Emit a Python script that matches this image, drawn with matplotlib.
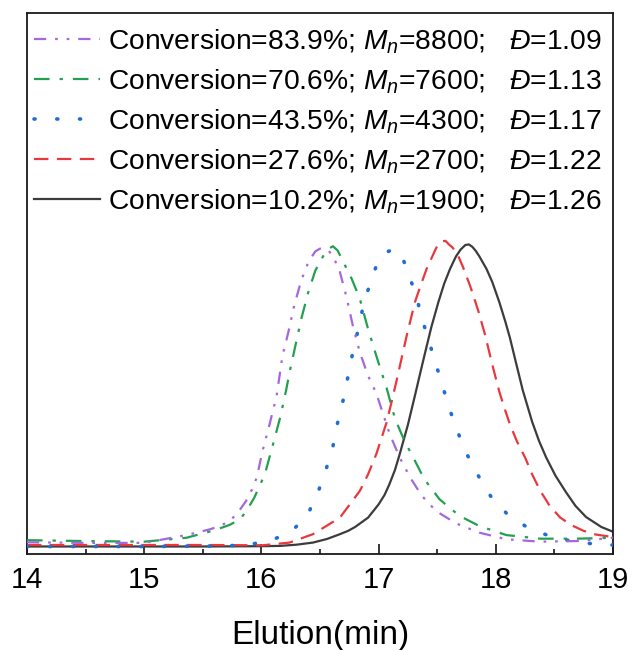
import numpy as np
import matplotlib.pyplot as plt
from matplotlib.ticker import MultipleLocator

plt.rcParams['font.family'] = ['Liberation Sans', 'DejaVu Sans']
plt.rcParams['mathtext.fontset'] = 'custom'
plt.rcParams['mathtext.rm'] = 'Liberation Sans'
plt.rcParams['mathtext.it'] = 'Liberation Sans:italic'

# Curvas GPC (tiempo de elución en min, intensidad normalizada)
x_839 = [14.0, 14.5, 15.0, 15.36, 15.56, 15.65, 15.73, 15.80, 15.87, 15.92, 15.96, 16.01,
         16.07, 16.13, 16.18, 16.23, 16.28, 16.34, 16.40, 16.46, 16.50, 16.53, 16.57, 16.61,
         16.67, 16.73, 16.78, 16.84, 16.91, 16.98, 17.095, 17.18, 17.27, 17.37, 17.49, 17.66,
         17.86, 18.09, 18.38, 18.69, 19.0]
y_839 = [0.039, 0.037, 0.037, 0.063, 0.082, 0.094, 0.11, 0.138, 0.177, 0.215, 0.254, 0.343,
         0.432, 0.527, 0.66, 0.738, 0.827, 0.91, 0.971, 1.007, 1.016, 1.018, 1.01, 0.993,
         0.938, 0.849, 0.76, 0.671, 0.593, 0.535, 0.399, 0.321, 0.254, 0.193, 0.143, 0.102,
         0.071, 0.049, 0.041, 0.043, 0.054]

x_706 = [14.0, 14.5, 15.0, 15.36, 15.6, 15.73, 15.82, 15.88, 15.94, 16.03, 16.1, 16.16,
         16.21, 16.24, 16.29, 16.34, 16.40, 16.46, 16.53, 16.57, 16.61, 16.65, 16.70, 16.77,
         16.84, 16.91, 16.98, 17.07, 17.14, 17.22, 17.31, 17.39, 17.52, 17.69, 17.86, 18.09,
         18.38, 18.69, 19.0]
y_706 = [0.046, 0.043, 0.041, 0.054, 0.079, 0.097, 0.116, 0.148, 0.188, 0.266, 0.366, 0.454,
         0.543, 0.604, 0.693, 0.782, 0.871, 0.943, 0.993, 1.015, 1.024, 1.01, 0.971, 0.916,
         0.849, 0.749, 0.66, 0.55, 0.45, 0.377, 0.31, 0.249, 0.182, 0.127, 0.093, 0.063,
         0.051, 0.051, 0.054]

x_435 = [14.0, 14.5, 15.0, 15.5, 15.86, 16.06, 16.24, 16.39, 16.48, 16.55, 16.61, 16.65,
         16.70, 16.74, 16.78, 16.83, 16.87, 16.93, 17.0, 17.07, 17.14, 17.20, 17.25, 17.32,
         17.37, 17.43, 17.49, 17.55, 17.61, 17.68, 17.76, 17.86, 17.96, 18.09, 18.27, 18.47,
         18.67, 18.87, 19.0]
y_435 = [0.025, 0.025, 0.025, 0.026, 0.029, 0.043, 0.069, 0.127, 0.202, 0.279, 0.357, 0.436,
         0.516, 0.593, 0.671, 0.754, 0.827, 0.904, 0.98, 1.005, 1.015, 0.99, 0.938, 0.86,
         0.784, 0.707, 0.631, 0.553, 0.477, 0.401, 0.327, 0.254, 0.19, 0.136, 0.088, 0.058,
         0.041, 0.032, 0.03]

x_276 = [14.0, 14.5, 15.0, 15.5, 16.01, 16.24, 16.44, 16.67, 16.84, 16.91, 16.98, 17.07,
         17.11, 17.15, 17.24, 17.31, 17.36, 17.41, 17.47, 17.50, 17.54, 17.57, 17.60, 17.63,
         17.67, 17.72, 17.78, 17.85, 17.91, 17.97, 18.03, 18.07, 18.12, 18.18, 18.25, 18.31,
         18.38, 18.46, 18.55, 18.65, 18.75, 18.85, 18.97, 19.0]
y_276 = [0.03, 0.03, 0.03, 0.03, 0.029, 0.038, 0.066, 0.121, 0.21, 0.265, 0.332, 0.44,
         0.505, 0.571, 0.727, 0.838, 0.895, 0.949, 1.0, 1.025, 1.04, 1.042, 1.03, 1.02,
         1.0, 0.955, 0.893, 0.81, 0.727, 0.63, 0.54, 0.49, 0.432, 0.375, 0.321, 0.265,
         0.21, 0.16, 0.121, 0.095, 0.077, 0.065, 0.058, 0.056]

x_102 = [14.0, 14.5, 15.0, 15.5, 16.0, 16.16, 16.3, 16.44, 16.56, 16.67, 16.74, 16.8,
         16.91, 17.0, 17.05, 17.09, 17.14, 17.18, 17.25, 17.31, 17.36, 17.40, 17.45, 17.51,
         17.56, 17.61, 17.66, 17.70, 17.74, 17.77, 17.80, 17.83, 17.86, 17.92, 17.97, 18.03,
         18.08, 18.12, 18.17, 18.23, 18.31, 18.37, 18.43, 18.51, 18.60, 18.68, 18.77, 18.90,
         19.0]
y_102 = [0.025, 0.025, 0.025, 0.025, 0.026, 0.027, 0.031, 0.038, 0.05, 0.066, 0.077, 0.09,
         0.121, 0.165, 0.196, 0.23, 0.28, 0.332, 0.43, 0.527, 0.61, 0.675, 0.755, 0.838,
         0.90, 0.949, 0.99, 1.013, 1.028, 1.03, 1.022, 1.008, 0.99, 0.949, 0.905, 0.838,
         0.775, 0.72, 0.64, 0.545, 0.44, 0.375, 0.321, 0.26, 0.205, 0.16, 0.123, 0.09,
         0.074]

etiquetas = [
    r"Conversion=83.9%; $M_n$=8800;   $Đ$=1.09",
    r"Conversion=70.6%; $M_n$=7600;   $Đ$=1.13",
    r"Conversion=43.5%; $M_n$=4300;   $Đ$=1.17",
    r"Conversion=27.6%; $M_n$=2700;   $Đ$=1.22",
    r"Conversion=10.2%; $M_n$=1900;   $Đ$=1.26",
]

fig = plt.figure(figsize=(6.32, 6.5), dpi=100)
ax = fig.add_axes([27/632, 1 - 554/650, 586/632, 541/650])

ax.plot(x_102, y_102, color='#3c3c3c', lw=1.6, label=etiquetas[4], zorder=2)
ax.plot(x_276, y_276, color='#e8383d', lw=1.6, dashes=(6.5, 3.8), label=etiquetas[3], zorder=3)
ax.plot(x_435, y_435, color='#1f6ed4', lw=2.6, dashes=(0.3, 6.0), dash_capstyle='round',
        label=etiquetas[2], zorder=4)
ax.plot(x_706, y_706, color='#22a050', lw=1.6, dashes=(7, 4.5, 1.5, 4.5), label=etiquetas[1], zorder=5)
ax.plot(x_839, y_839, color='#a468dc', lw=1.6, dashes=(5.5, 4, 1.2, 4, 1.2, 4), label=etiquetas[0], zorder=6)

ax.set_xlim(14, 19)
ax.set_ylim(0, 1.8)
ax.xaxis.set_major_locator(MultipleLocator(1))
ax.xaxis.set_minor_locator(MultipleLocator(0.5))
ax.set_yticks([])
ax.tick_params(axis='x', which='major', direction='in', length=7, width=1.1, labelsize=21, pad=8.5)
ax.tick_params(axis='x', which='minor', direction='in', length=3.5, width=1.1)
for s in ax.spines.values():
    s.set_linewidth(1.3)
    s.set_color('#1a1a1a')

ax.set_xlabel('Elution(min)', fontsize=24, labelpad=19)

handles, labels = ax.get_legend_handles_labels()
ax.legend(handles[::-1], labels[::-1], loc='upper left', bbox_to_anchor=(0.012, 0.974),
          frameon=False, fontsize=20.3, handlelength=2.33, handletextpad=0.28,
          labelspacing=0.41, borderaxespad=0, borderpad=0)

fig.savefig('out.png', dpi=100)
